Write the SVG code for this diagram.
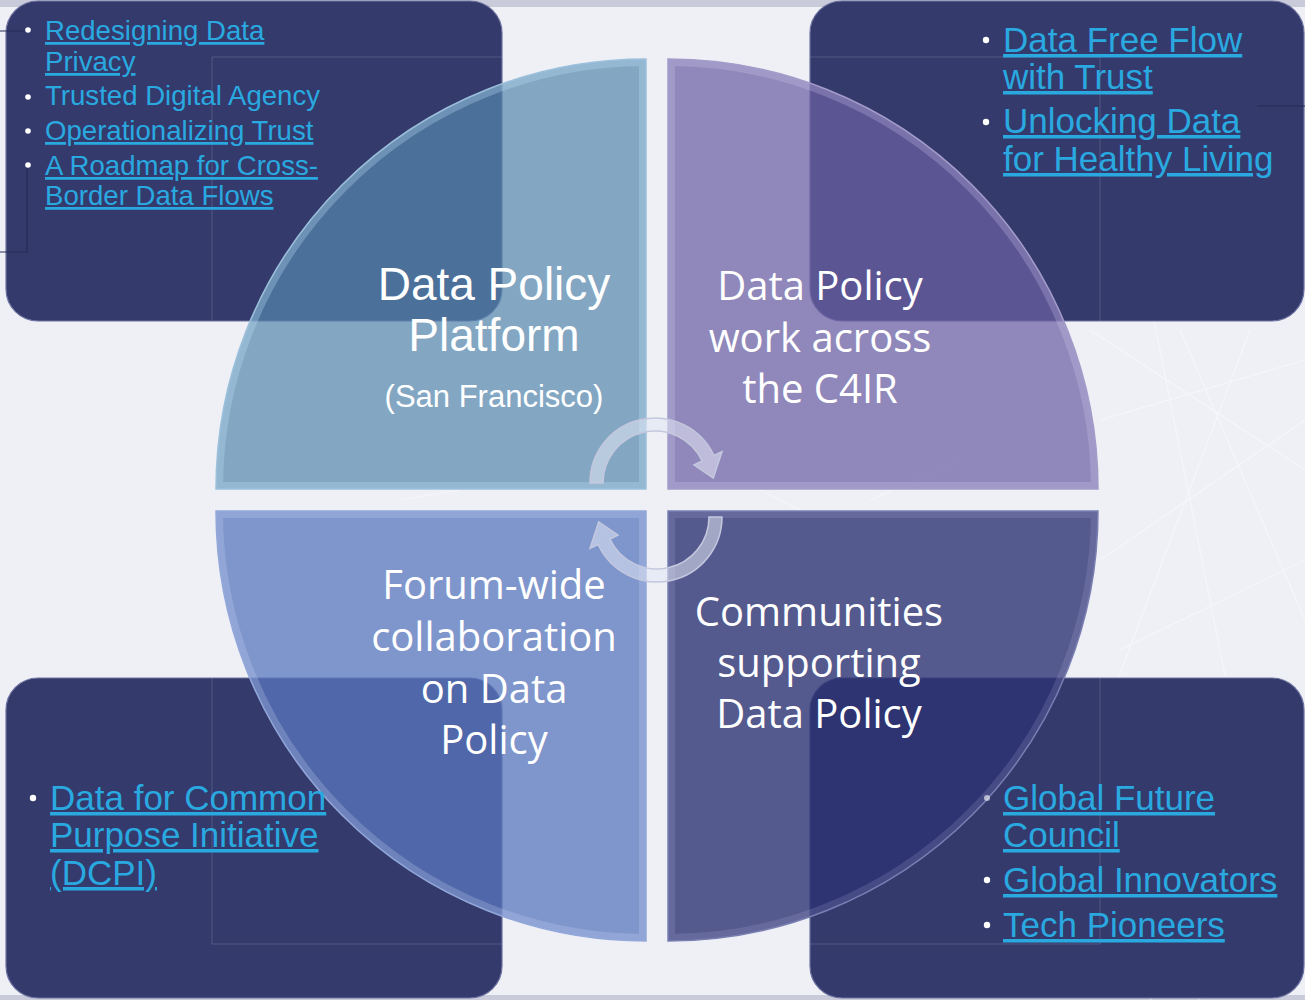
<svg xmlns="http://www.w3.org/2000/svg" width="1305" height="1000" viewBox="0 0 1305 1000">
<defs>
<style>
.box{fill:#343a6c;stroke:#6d72a0;stroke-width:1.2}
.frame{fill:none;stroke:#ffffff;stroke-opacity:0.16;stroke-width:1}
.link{font-family:"Liberation Sans",Arial,sans-serif;fill:#29a9e0;text-decoration:underline}
.plain{font-family:"Liberation Sans",Arial,sans-serif;fill:#29a9e0}
.bul{fill:#ffffff}
.qlabel{font-family:"Open Sans","Noto Sans",sans-serif;font-size:40px;fill:#ffffff;text-anchor:middle}
.hlabel{font-family:"Liberation Sans",Arial,sans-serif;fill:#ffffff;text-anchor:middle}
.bevel{fill:none;stroke-width:14}
.arrow{fill:#e4e7f4;fill-opacity:0.55;stroke:#c4c8de;stroke-width:1.5}
.net{stroke:#ffffff;stroke-width:1.1;stroke-opacity:0.45;fill:none}
.brk{stroke:#262b58;stroke-width:1.2;fill:none}
</style>
<clipPath id="cTL"><path d="M646 489 L216 489 A430 430 0 0 1 646 59 Z"/></clipPath>
<clipPath id="cTR"><path d="M668 489 L668 59 A430 430 0 0 1 1098 489 Z"/></clipPath>
<clipPath id="cBL"><path d="M646 511 L646 941 A430 430 0 0 1 216 511 Z"/></clipPath>
<clipPath id="cBR"><path d="M668 511 L1098 511 A430 430 0 0 1 668 941 Z"/></clipPath>
</defs>

<!-- background -->
<rect x="0" y="0" width="1305" height="1000" fill="#eef0f5"/>
<rect x="0" y="0" width="1305" height="7" fill="#c9cbdb"/>
<rect x="0" y="995" width="1305" height="5" fill="#c9cbdb"/>
<g id="background-network">
<path class="net" d="M1090 330 L1305 470 M1100 420 L1305 360 M1150 300 L1230 700 M1120 650 L1305 560 M1180 330 L1305 620 M1100 560 L1305 420 M1110 700 L1250 330 M760 490 L800 510 M870 500 L960 460 M400 500 L460 490 M1110 900 L1200 1000 M1150 1000 L1305 870"/>
</g>

<!-- corner boxes -->
<g id="box-top-left">
<rect class="box" x="6" y="1" width="496" height="320" rx="32"/>
<path class="frame" d="M212 320 L212 57 L502 57"/>
<path class="brk" d="M0 31 L27 31 M27 165 L27 252 L0 252"/>
</g>
<g id="box-top-right">
<rect class="box" x="810" y="1" width="494" height="320" rx="32"/>
<path class="frame" d="M810 57 L1100 57 L1100 321"/>
<path class="brk" d="M1257 106 L1305 106"/>
</g>
<g id="box-bottom-left">
<rect class="box" x="6" y="678" width="496" height="320" rx="32"/>
<path class="frame" d="M212 678 L212 944 L502 944"/>
</g>
<g id="box-bottom-right">
<rect class="box" x="810" y="678" width="494" height="320" rx="32"/>
<path class="frame" d="M1100 678 L1100 944 L810 944"/>
</g>

<!-- quadrants -->
<g id="quadrant-top-left">
<path d="M646 489 L216 489 A430 430 0 0 1 646 59 Z" fill="#5588ae" fill-opacity="0.7"/>
<path class="bevel" clip-path="url(#cTL)" d="M646 489 L216 489 A430 430 0 0 1 646 59 Z" stroke="#bfe0f4" stroke-opacity="0.3"/>
<path d="M646 489 L216 489 A430 430 0 0 1 646 59 Z" fill="none" stroke="#9cc0dc" stroke-width="1.5"/>
<text class="hlabel" x="494" y="300" font-size="46">Data Policy</text>
<text class="hlabel" x="494" y="351" font-size="46">Platform</text>
<text class="hlabel" x="494" y="407" font-size="31">(San Francisco)</text>
</g>
<g id="quadrant-top-right">
<path d="M668 489 L668 59 A430 430 0 0 1 1098 489 Z" fill="#6c60a4" fill-opacity="0.72"/>
<path class="bevel" clip-path="url(#cTR)" d="M668 489 L668 59 A430 430 0 0 1 1098 489 Z" stroke="#d4cdf0" stroke-opacity="0.25"/>
<path d="M668 489 L668 59 A430 430 0 0 1 1098 489 Z" fill="none" stroke="#a39cca" stroke-width="1.5"/>
<text class="qlabel" x="820" y="300">Data Policy</text>
<text class="qlabel" x="820" y="352">work across</text>
<text class="qlabel" x="820" y="403">the C4IR</text>
</g>
<g id="quadrant-bottom-left">
<path d="M646 511 L646 941 A430 430 0 0 1 216 511 Z" fill="#5978be" fill-opacity="0.75"/>
<path class="bevel" clip-path="url(#cBL)" d="M646 511 L646 941 A430 430 0 0 1 216 511 Z" stroke="#c6d4f4" stroke-opacity="0.25"/>
<path d="M646 511 L646 941 A430 430 0 0 1 216 511 Z" fill="none" stroke="#93a8da" stroke-width="1.5"/>
<text class="qlabel" x="494" y="599">Forum-wide</text>
<text class="qlabel" x="494" y="651">collaboration</text>
<text class="qlabel" x="494" y="703">on Data</text>
<text class="qlabel" x="494" y="754">Policy</text>
</g>
<g id="quadrant-bottom-right">
<path d="M668 511 L1098 511 A430 430 0 0 1 668 941 Z" fill="#2d3374" fill-opacity="0.8"/>
<path class="bevel" clip-path="url(#cBR)" d="M668 511 L1098 511 A430 430 0 0 1 668 941 Z" stroke="#a9acd8" stroke-opacity="0.2"/>
<path d="M668 511 L1098 511 A430 430 0 0 1 668 941 Z" fill="none" stroke="#7a7fb2" stroke-width="1.5"/>
<text class="qlabel" x="819" y="626">Communities</text>
<text class="qlabel" x="819" y="677">supporting</text>
<text class="qlabel" x="819" y="728">Data Policy</text>
</g>

<!-- box texts -->
<g id="list-top-left">
<circle class="bul" cx="28" cy="30" r="2.8"/>
<circle class="bul" cx="28" cy="97" r="2.8"/>
<circle class="bul" cx="28" cy="131" r="2.8"/>
<circle class="bul" cx="28" cy="165" r="2.8"/>
<text class="link" x="45" y="40" font-size="27.6">Redesigning Data</text>
<text class="link" x="45" y="71" font-size="27.6">Privacy</text>
<text class="plain" x="45" y="105" font-size="27.6">Trusted Digital Agency</text>
<text class="link" x="45" y="140" font-size="27.6">Operationalizing Trust</text>
<text class="link" x="45" y="175" font-size="27.6">A Roadmap for Cross-</text>
<text class="link" x="45" y="205" font-size="27.6">Border Data Flows</text>
</g>
<g id="list-top-right">
<circle class="bul" cx="986" cy="40" r="3.2"/>
<circle class="bul" cx="986" cy="122" r="3.2"/>
<text class="link" x="1003" y="52" font-size="35">Data Free Flow</text>
<text class="link" x="1003" y="89" font-size="35">with Trust</text>
<text class="link" x="1003" y="133" font-size="35">Unlocking Data</text>
<text class="link" x="1003" y="171" font-size="35">for Healthy Living</text>
</g>
<g id="list-bottom-left">
<circle class="bul" cx="33" cy="798" r="3.2"/>
<text class="link" x="50" y="810" font-size="35">Data for Common</text>
<text class="link" x="50" y="847" font-size="35">Purpose Initiative</text>
<text class="link" x="50" y="885" font-size="35">(DCPI)</text>
</g>
<g id="list-bottom-right">
<circle class="bul" cx="987" cy="798" r="3" fill-opacity="0.6"/>
<circle class="bul" cx="987" cy="880" r="3.2"/>
<circle class="bul" cx="987" cy="925" r="3.2"/>
<text class="link" x="1003" y="810" font-size="35">Global Future</text>
<text class="link" x="1003" y="847" font-size="35">Council</text>
<text class="link" x="1003" y="892" font-size="35">Global Innovators</text>
<text class="link" x="1003" y="937" font-size="35">Tech Pioneers</text>
</g>

<!-- cycle arrows -->
<g id="connectors">
<path class="arrow" d="M590 483 A65 65 0 0 1 713.9 455.5 L722 451.7 L713.3 478 L694 464.8 L702.1 461 A52 52 0 0 0 603 483 Z"/>
<path class="arrow" d="M722 517 A65 65 0 0 1 598.1 544.5 L590 548.3 L598.7 522 L618 535.2 L609.9 539 A52 52 0 0 0 709 517 Z"/>
</g>
</svg>
